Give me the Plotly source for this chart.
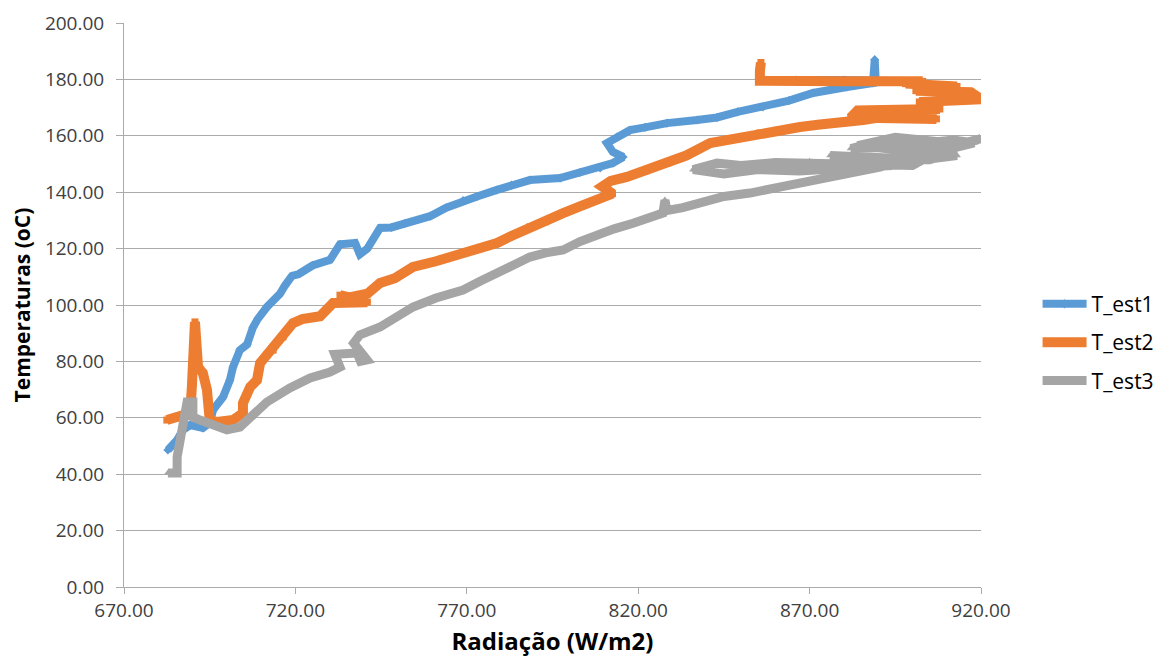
import plotly.graph_objects as go

# ---- data (Radiação W/m2, Temperatura oC) ----
est1_x = [682.8, 685.5, 687.2, 689.3, 693.0, 695.0, 696.0, 698.9, 700.9, 701.8, 703.8, 705.9,
          707.6, 709.0, 711.7, 715.5, 717.0, 719.0, 721.0, 725.0, 730.1, 733.0, 737.4, 738.8,
          741.0, 744.7, 748.0, 752.0, 759.3, 764.0, 768.9, 773.0, 778.8, 783.0, 788.4, 797.2,
          803.0, 808.9, 812.6, 815.6, 812.6, 810.9, 813.8, 817.6, 822.0, 828.4, 837.2, 843.0,
          849.0, 856.4, 864.0, 871.0, 876.0, 880.9, 888.5, 889.0, 889.3, 895.5, 880.0, 866.0]
est1_y = [48.6, 52.1, 55.7, 57.4, 56.4, 58.2, 62.8, 67.4, 73.4, 78.0, 84.0, 86.0,
          92.0, 95.0, 99.3, 104.0, 107.0, 110.3, 111.0, 114.0, 116.0, 121.5, 122.0, 118.0,
          120.0, 127.3, 127.5, 129.0, 131.5, 134.5, 137.0, 138.5, 140.8, 142.5, 144.3, 145.0,
          147.0, 148.6, 150.3, 152.5, 154.3, 157.4, 159.6, 162.0, 163.0, 164.5, 165.6, 166.5,
          168.5, 170.2, 172.5, 175.2, 176.5, 177.3, 178.7, 187.0, 179.0, 179.4, 179.8, 179.8]

est2_x = [682.5, 685.0, 687.2, 689.3, 689.8, 690.1, 690.7, 691.6, 693.0, 694.2, 694.5, 695.0,
          697.1, 701.8, 704.7, 704.7, 706.8, 708.8, 709.7, 711.7, 713.5, 716.4, 719.3, 722.0,
          727.2, 731.0, 741.0, 733.0, 735.0, 741.0, 744.7, 749.0, 754.3, 761.0, 768.9, 774.0,
          778.8, 783.0, 788.4, 793.0, 798.1, 803.0, 808.5, 812.5, 809.5, 812.0, 816.7, 822.0,
          828.4, 834.0, 841.0, 848.0, 855.5, 861.0, 867.2, 873.0, 878.9, 885.6, 895.5, 902.0,
          907.0, 882.0, 884.0, 908.0, 902.0, 920.0, 917.0, 901.0, 913.0, 898.0, 903.0, 880.0,
          855.5, 855.5, 855.8]
est2_y = [59.2, 60.0, 60.3, 61.7, 71.0, 84.0, 94.0, 78.0, 75.9, 69.9, 65.2, 59.2,
          58.5, 59.2, 61.7, 65.2, 70.9, 73.4, 79.4, 82.3, 84.0, 88.7, 93.6, 95.0,
          96.0, 100.7, 101.0, 103.5, 102.5, 104.0, 107.8, 109.5, 113.5, 115.5, 118.4, 120.0,
          122.0, 124.5, 127.7, 129.5, 132.6, 135.0, 137.5, 139.5, 142.0, 144.0, 145.4, 147.5,
          150.3, 153.0, 157.4, 159.0, 161.0, 162.0, 163.1, 164.0, 164.5, 165.6, 167.5, 166.7,
          166.0, 166.5, 169.0, 169.5, 172.0, 173.0, 175.5, 176.0, 177.5, 178.5, 179.3, 179.3,
          179.5, 183.0, 186.0]

est3_x = [682.8, 685.5, 685.5, 686.3, 687.2, 687.2, 688.4, 690.1, 690.1, 692.2, 695.0, 697.1,
          700.0, 703.8, 706.8, 711.7, 718.4, 724.3, 730.1, 733.0, 731.5, 738.0, 739.0, 740.9,
          737.0, 738.8, 744.7, 749.0, 754.3, 761.0, 768.9, 774.0, 778.8, 783.0, 788.4, 793.0,
          798.1, 803.0, 808.9, 813.0, 818.5, 823.0, 827.2, 827.8, 828.4, 833.0, 838.0, 845.0,
          852.6, 860.0, 867.2, 873.0, 878.9, 884.0, 890.5, 895.0, 900.2, 906.0, 913.0, 918.0,
          912.0, 900.0, 890.0, 882.0, 895.0, 907.0, 920.0, 915.0, 895.0, 884.0, 913.0, 903.0,
          900.0, 880.0, 870.0, 860.0, 850.0, 843.0, 836.0, 845.0, 855.0, 867.0, 880.0, 894.0,
          876.0, 905.0, 912.0]
est3_y = [40.4, 40.4, 46.1, 52.1, 55.7, 59.2, 65.6, 65.6, 60.3, 59.2, 58.2, 56.7,
          55.7, 56.7, 60.3, 65.6, 70.6, 74.1, 76.2, 78.0, 82.5, 83.0, 80.0, 80.5,
          86.5, 89.4, 92.2, 95.0, 99.3, 102.5, 105.3, 108.5, 111.3, 114.0, 117.0, 118.5,
          119.5, 122.5, 125.5, 127.0, 129.0, 131.0, 132.6, 137.2, 133.5, 134.5, 136.2, 138.5,
          139.7, 141.5, 143.3, 144.5, 145.4, 147.0, 148.9, 150.5, 152.5, 154.0, 156.0, 157.5,
          158.5, 157.0, 158.0, 155.5, 156.0, 155.0, 159.0, 157.0, 159.5, 156.5, 153.0, 151.5,
          149.5, 150.0, 151.0, 150.5, 149.5, 150.3, 148.0, 146.5, 148.0, 147.5, 148.5, 149.5,
          153.0, 151.5, 154.0]

series_names = ["T_est1", "T_est2", "T_est3"]
x_ticks = [670, 720, 770, 820, 870, 920]
y_ticks = [0, 20, 40, 60, 80, 100, 120, 140, 160, 180, 200]

colors = ["#5B9BD5", "#ED7D31", "#A5A5A5"]
symbols = ["diamond", "square", "triangle-up"]
widths = [8, 10, 9]

fig = go.Figure()
for i, (xs, ys) in enumerate([(est1_x, est1_y), (est2_x, est2_y), (est3_x, est3_y)]):
    fig.add_trace(go.Scatter(
        x=xs, y=ys, name=series_names[i], mode="lines+markers",
        legendgroup=series_names[i],
        line=dict(color=colors[i], width=widths[i]),
        marker=dict(color=colors[i], symbol=symbols[i], size=7),
    ))

grid_col = "#ABABAB"
tick_font = dict(family="Open Sans", size=19, color="#404040")
fig.update_layout(
    width=1156, height=649,
    margin=dict(l=116, r=183, t=15, b=70, autoexpand=False),
    paper_bgcolor="white", plot_bgcolor="white",
    showlegend=True,
    legend=dict(x=1.066, xanchor="left", y=0.434, yanchor="middle",
                font=dict(family="Open Sans", size=21, color="#000000"),
                itemwidth=44, tracegroupgap=8, bgcolor="rgba(0,0,0,0)"),
    xaxis=dict(range=[670, 920], tickvals=x_ticks, tickformat=".2f",
               showgrid=False, zeroline=False, automargin=False,
               showline=True, linecolor=grid_col, linewidth=1,
               ticks="outside", ticklen=6, tickcolor=grid_col,
               ticklabelstandoff=0,
               tickfont=tick_font,
               title=dict(text="Radiação (W/m2)", standoff=20,
                          font=dict(family="Open Sans", size=24, color="#000000", weight="bold"))),
    yaxis=dict(range=[0, 200], tickvals=y_ticks, tickformat=".2f",
               showgrid=True, gridcolor=grid_col, gridwidth=1, zeroline=False, automargin=False,
               showline=True, linecolor=grid_col, linewidth=1,
               ticks="outside", ticklen=7, tickcolor=grid_col,
               ticklabelstandoff=8,
               tickfont=tick_font,
               title=dict(text="Temperaturas (oC)", standoff=14,
                          font=dict(family="Open Sans", size=21, color="#000000", weight="bold"))),
)

fig.write_html("out.html")
